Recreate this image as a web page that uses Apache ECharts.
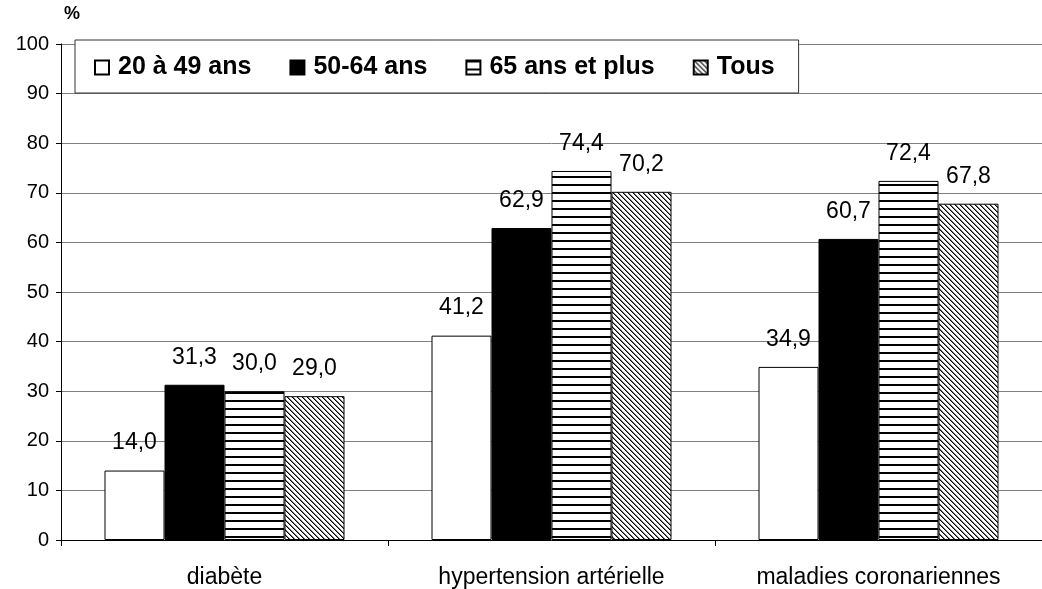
<!DOCTYPE html>
<html>
<head>
<meta charset="utf-8">
<script src="https://cdn.jsdelivr.net/npm/echarts@6/dist/echarts.min.js"></script>
<style>
  html, body { margin: 0; padding: 0; background: #fff; }
  #chart { width: 1042px; height: 589px; }
</style>
</head>
<body>
<div id="chart"></div>
<script>
  // données
  var categories = ['diabète', 'hypertension artérielle', 'maladies coronariennes'];
  var ageGroups = ['20 à 49 ans', '50-64 ans', '65 ans et plus', 'Tous'];
  var v2049 = [14.0, 41.2, 34.9];
  var v5064 = [31.3, 62.9, 60.7];
  var v65plus = [30.0, 74.4, 72.4];
  var vTous = [29.0, 70.2, 67.8];
  var yTicks = [0, 10, 20, 30, 40, 50, 60, 70, 80, 90, 100];

  var FONT = 'Liberation Sans, Arial, sans-serif';

  // motifs (rayures horizontales / hachures diagonales)
  function stripes() {
    var c = document.createElement('canvas');
    c.width = 8; c.height = 8;
    var ctx = c.getContext('2d');
    ctx.fillStyle = '#fff'; ctx.fillRect(0, 0, 8, 8);
    ctx.fillStyle = '#000'; ctx.fillRect(0, 0, 8, 2);
    return c;
  }
  function hatch() {
    var n = 5;
    var c = document.createElement('canvas');
    c.width = n; c.height = n;
    var ctx = c.getContext('2d');
    ctx.fillStyle = '#fff'; ctx.fillRect(0, 0, n, n);
    for (var i = 0; i < n; i++) {
      ctx.fillStyle = '#000'; ctx.fillRect(i, i, 1, 1);
      ctx.fillStyle = '#777'; ctx.fillRect((i + 1) % n, i, 1, 1);
    }
    return c;
  }

  var fills = [
    '#ffffff',
    '#000000',
    { image: stripes(), repeat: 'repeat' },
    { image: hatch(), repeat: 'repeat' }
  ];
  var values = [v2049, v5064, v65plus, vTous];

  var series = ageGroups.map(function (name, i) {
    return {
      name: name,
      type: 'bar',
      barWidth: 60,
      barGap: 0,
      data: values[i],
      itemStyle: { color: fills[i], borderColor: '#000', borderWidth: 1 },
      label: {
        show: true,
        position: 'top',
        distance: 16,
        fontSize: 23,
        color: '#000',
        fontFamily: FONT,
        formatter: function (p) { return p.value.toFixed(1).replace('.', ','); }
      }
    };
  });

  var myChart = echarts.init(document.getElementById('chart'));
  myChart.setOption({
    animation: false,
    textStyle: { fontFamily: FONT },
    grid: { left: 61, top: 44, bottom: 49, right: -6 },
    graphic: [{
      type: 'text', left: 64, top: 5,
      style: { text: '%', fontSize: 18, fontWeight: 'bold', fill: '#000', fontFamily: FONT }
    }],
    legend: {
      data: ageGroups,
      left: 75, top: 40,
      backgroundColor: '#fff',
      borderColor: '#333',
      borderWidth: 1,
      padding: [15, 24, 13, 19],
      icon: 'rect',
      itemWidth: 14, itemHeight: 14,
      itemGap: 38,
      textStyle: { fontSize: 25, fontWeight: 'bold', color: '#000', fontFamily: FONT,
                   padding: [0, 0, 0, 4] }
    },
    xAxis: {
      type: 'category',
      data: categories,
      axisLine: { lineStyle: { color: '#000', width: 1 } },
      axisTick: { show: true, length: 6, lineStyle: { color: '#000' } },
      axisLabel: { fontSize: 23, color: '#000', margin: 26 }
    },
    yAxis: {
      type: 'value',
      min: yTicks[0], max: yTicks[yTicks.length - 1], interval: 10,
      axisLine: { show: true, lineStyle: { color: '#000', width: 1 } },
      axisTick: { show: true, length: 5, lineStyle: { color: '#000' } },
      axisLabel: { fontSize: 20, color: '#000', margin: 12 },
      splitLine: { lineStyle: { color: '#808080', width: 1 } }
    },
    series: series
  });
</script>
</body>
</html>
